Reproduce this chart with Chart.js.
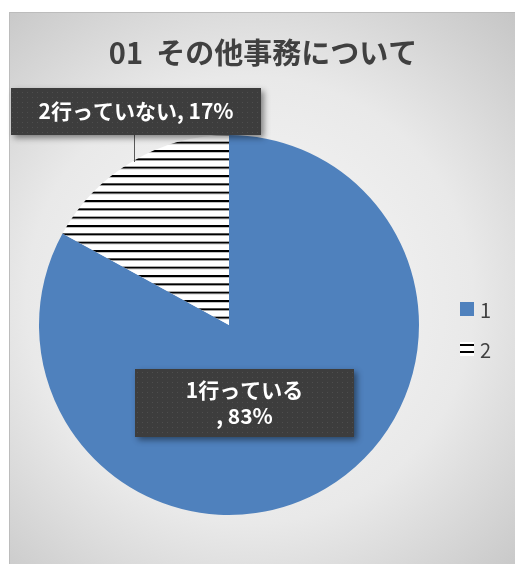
<!DOCTYPE html>
<html>
<head>
<meta charset="utf-8">
<script src="https://cdn.jsdelivr.net/npm/chart.js@4/dist/chart.umd.min.js"></script>
<style>
  html, body { margin: 0; padding: 0; background: #fff; }
  #wrap { width: 515px; height: 564px; position: relative; }
</style>
</head>
<body>
<div id="wrap"><canvas id="chart" width="515" height="564"></canvas></div>
<script>
const categories = ['1', '2'];
const labelNames = ['1行っている', '2行っていない'];
const values = [83, 17];
const titleText = '01  その他事務について';

const fontJP = '"Noto Sans CJK JP", "Noto Sans", sans-serif';
const blue = '#4f81bd';

function makeStripes() {
  const c = document.createElement('canvas');
  c.width = 8;
  c.height = 25;
  const g = c.getContext('2d');
  g.fillStyle = '#ffffff';
  g.fillRect(0, 0, 8, 25);
  for (let i = 0; i < 3; i++) {
    const y = i * 25 / 3;
    g.fillStyle = '#000000';
    g.fillRect(0, y, 8, 2);
    g.fillStyle = '#9a9a9a';
    g.fillRect(0, y + 2, 8, 0.6);
  }
  return g.createPattern(c, 'repeat');
}

function makeDots(ctx) {
  const c = document.createElement('canvas');
  c.width = 5;
  c.height = 5;
  const g = c.getContext('2d');
  g.fillStyle = '#3d3d3d';
  g.fillRect(0, 0, 5, 5);
  g.fillStyle = '#4e4e4e';
  g.fillRect(2, 2, 1, 1);
  return ctx.createPattern(c, 'repeat');
}

const ctx = document.getElementById('chart').getContext('2d');
const stripes = makeStripes();

function labelBox(c, x, y, w, h, lines, size) {
  c.save();
  c.shadowColor = 'rgba(0,0,0,0.45)';
  c.shadowBlur = 6;
  c.shadowOffsetX = 3;
  c.shadowOffsetY = 3;
  c.fillStyle = '#3d3d3d';
  c.fillRect(x, y, w, h);
  c.restore();
  c.save();
  c.fillStyle = makeDots(c);
  c.fillRect(x, y, w, h);
  c.fillStyle = '#ffffff';
  c.font = 'bold ' + size + 'px ' + fontJP;
  c.textAlign = 'center';
  c.textBaseline = 'middle';
  const lh = size * 1.2;
  const top = y + h / 2 - (lines.length - 1) * lh / 2;
  lines.forEach((t, i) => c.fillText(t, x + w / 2, top + i * lh));
  c.restore();
}

const decor = {
  id: 'decor',
  beforeDraw(chart) {
    const c = chart.ctx;
    c.save();
    const grd = c.createRadialGradient(250, 300, 20, 250, 300, 390);
    grd.addColorStop(0, '#f7f7f7');
    grd.addColorStop(0.55, '#e9e9e9');
    grd.addColorStop(1, '#c6c6c6');
    c.fillStyle = grd;
    c.fillRect(9, 12, 506, 552);
    c.fillStyle = '#bcbcbc';
    c.fillRect(9, 12, 506, 1);
    c.fillRect(9, 12, 1, 552);
    // title
    c.fillStyle = '#404040';
    c.font = 'bold 29px ' + fontJP;
    c.textAlign = 'center';
    c.textBaseline = 'middle';
    c.fillText(titleText, 263, 53);
    c.restore();
  },
  afterDatasetsDraw(chart) {
    const c = chart.ctx;
    const meta = chart.getDatasetMeta(0);
    const cx = meta.data[0].x, cy = meta.data[0].y;
    const total = values.reduce((a, b) => a + b, 0);
    const pct = values.map(v => Math.round(v / total * 100) + '%');

    // leader line for slice 2
    c.save();
    c.strokeStyle = '#595959';
    c.lineWidth = 1;
    c.beginPath();
    c.moveTo(cx - 95 + 0.5, cy - 190);
    c.lineTo(cx - 95 + 0.5, cy - 163);
    c.stroke();
    c.restore();

    labelBox(c, cx - 94, cy + 44, 219, 68, [labelNames[0], ', ' + pct[0]], 21);
    labelBox(c, cx - 218, cy - 237, 250, 47, [labelNames[1] + ', ' + pct[1]], 21);

    // legend
    c.save();
    c.font = '20px ' + fontJP;
    c.textBaseline = 'middle';
    const lx = 460;
    const ly = [309, 349];
    categories.forEach((cat, i) => {
      if (i === 0) {
        c.fillStyle = blue;
        c.fillRect(lx, ly[i] - 7, 14, 14);
      } else {
        c.fillStyle = '#ffffff';
        c.fillRect(lx, ly[i] - 7, 14, 14);
        c.fillStyle = '#000000';
        c.fillRect(lx, ly[i] - 5, 14, 2);
        c.fillRect(lx, ly[i] + 2, 14, 2);
      }
      c.fillStyle = '#404040';
      c.fillText(cat, lx + 20, ly[i] + 1);
    });
    c.restore();
  }
};

new Chart(ctx, {
  type: 'pie',
  data: {
    labels: categories,
    datasets: [{
      data: values,
      backgroundColor: [blue, stripes],
      borderWidth: 0
    }]
  },
  options: {
    responsive: false,
    animation: false,
    layout: { padding: { left: 39, right: 96, top: 135, bottom: 49 } },
    plugins: {
      legend: { display: false },
      tooltip: { enabled: false },
      title: { display: false }
    }
  },
  plugins: [decor]
});
</script>
</body>
</html>
